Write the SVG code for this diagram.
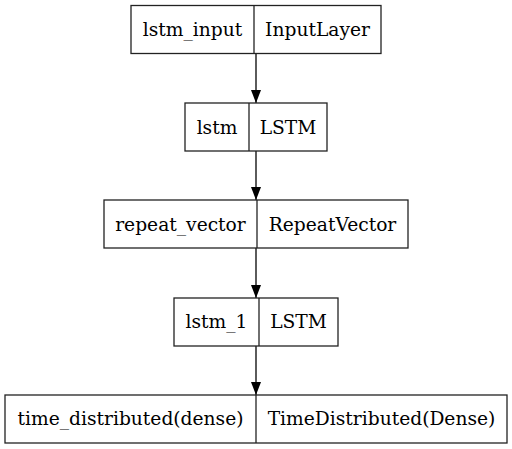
<svg xmlns="http://www.w3.org/2000/svg" width="512" height="449" viewBox="0 0 512 449">
<style>
.box{fill:#fff;stroke:#222;stroke-width:1.3}
.div{stroke:#222;stroke-width:1.3}
text{font-family:"DejaVu Serif","Liberation Serif",serif;font-size:18.67px;fill:#000;text-anchor:middle}
.edge{stroke:#333;stroke-width:1.6;fill:none}
</style>
<defs>
<marker id="ah" markerUnits="userSpaceOnUse" markerWidth="14" markerHeight="12" refX="13" refY="5" orient="auto">
<path d="M0,0 L13,5 L0,10 Z" fill="#000"/>
</marker>
</defs>
<rect width="512" height="449" fill="#fff"/>
<g id="edges">
<path class="edge" d="M256,53.5 V103" marker-end="url(#ah)"/>
<path class="edge" d="M256,151 V200" marker-end="url(#ah)"/>
<path class="edge" d="M256,248 V298" marker-end="url(#ah)"/>
<path class="edge" d="M256,346 V395" marker-end="url(#ah)"/>
</g>
<g id="lstm_input">
<rect class="box" x="131" y="5.5" width="250" height="48"/>
<line class="div" x1="254" y1="5.5" x2="254" y2="53.5"/>
<text x="192.5" y="36">lstm_input</text>
<text x="317.5" y="36">InputLayer</text>
</g>
<g id="lstm">
<rect class="box" x="185" y="103" width="142" height="48"/>
<line class="div" x1="249" y1="103" x2="249" y2="151"/>
<text x="217" y="133.5">lstm</text>
<text x="288" y="133.5">LSTM</text>
</g>
<g id="repeat_vector">
<rect class="box" x="104" y="200" width="304" height="48"/>
<line class="div" x1="257" y1="200" x2="257" y2="248"/>
<text x="180.5" y="230.5">repeat_vector</text>
<text x="332.5" y="230.5">RepeatVector</text>
</g>
<g id="lstm_1">
<rect class="box" x="174" y="298" width="164" height="48"/>
<line class="div" x1="259" y1="298" x2="259" y2="346"/>
<text x="216.5" y="327.5">lstm_1</text>
<text x="298.5" y="327.5">LSTM</text>
</g>
<g id="time_distributed">
<rect class="box" x="5" y="395" width="502" height="48"/>
<line class="div" x1="256" y1="395" x2="256" y2="443"/>
<text x="130.5" y="424.5">time_distributed(dense)</text>
<text x="381.5" y="424.5">TimeDistributed(Dense)</text>
</g>
</svg>
